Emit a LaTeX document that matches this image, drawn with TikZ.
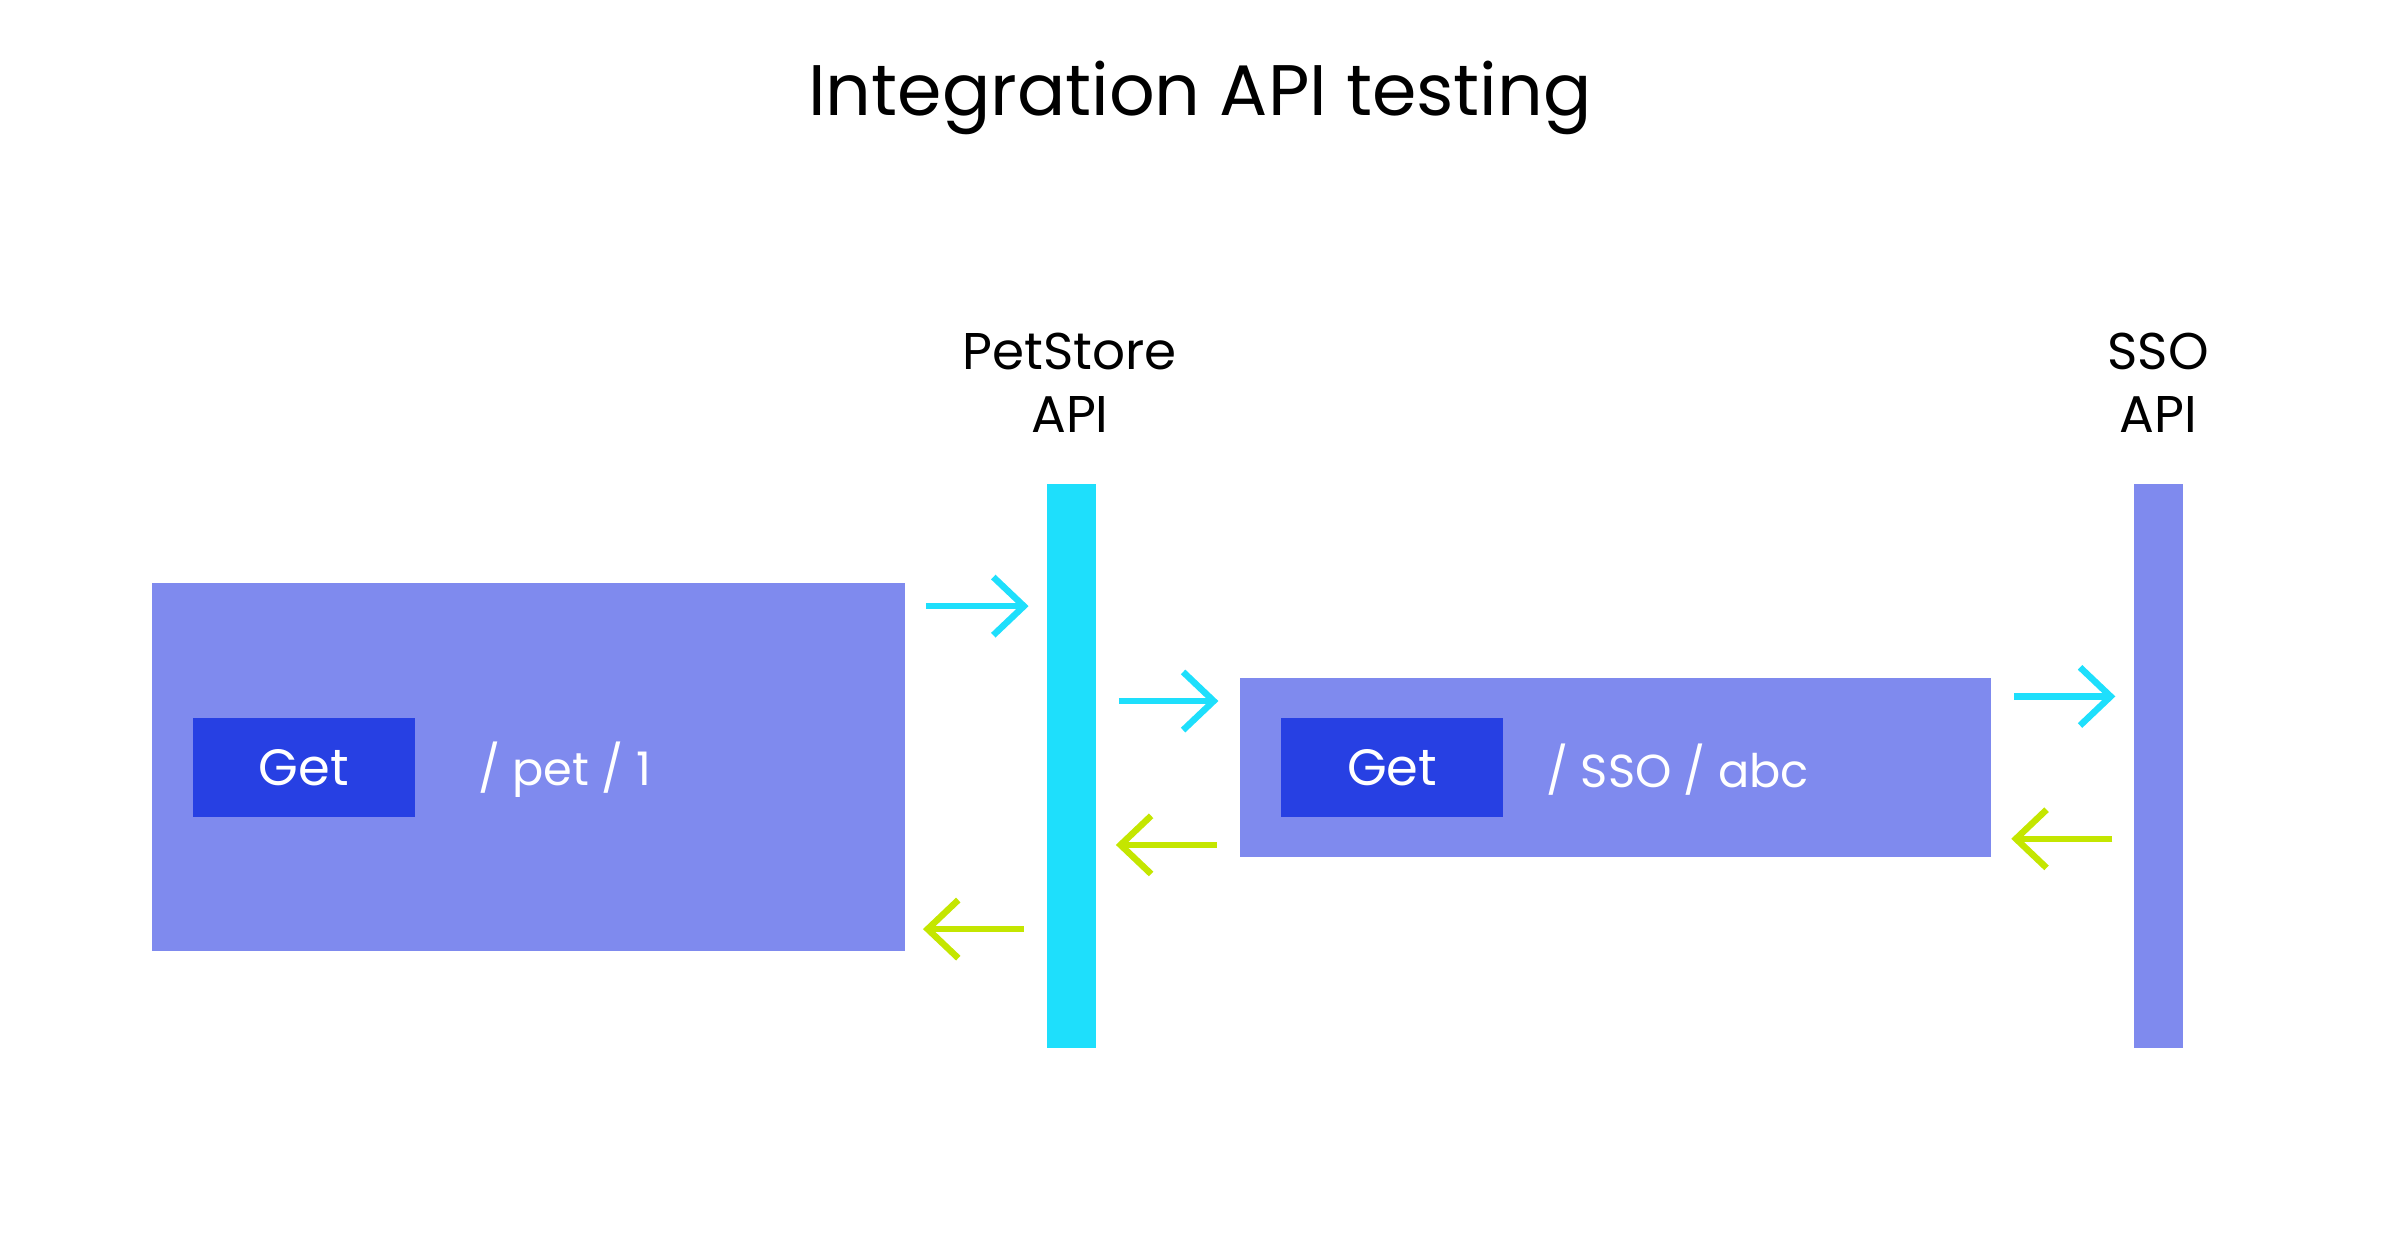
\documentclass[tikz,border=0pt]{standalone}
\usepackage{fontspec}
\setmainfont{Poppins}
\usetikzlibrary{arrows.meta}
\definecolor{lav}{HTML}{7F8AEE}
\definecolor{blu}{HTML}{2740E3}
\definecolor{cya}{HTML}{1EDFFC}
\definecolor{lim}{HTML}{C4E600}
\begin{document}
\begin{tikzpicture}[x=1cm,y=-1cm,
  box/.style={fill=lav,draw=none,inner sep=0,minimum width=#1},
  get/.style={fill=blu,text=white,inner sep=0,minimum width=1.45cm,minimum height=0.65cm,font=\fontsize{9.5}{12}\selectfont},
  lbl/.style={text=white,anchor=west,font=\fontsize{8.6}{12}\selectfont},
  bar/.style={fill=#1,inner sep=0,minimum width=0.32cm,minimum height=3.69cm},
  head/.style={align=center,font=\fontsize{9.6}{11.6}\selectfont},
  arr/.style={draw=#1,line width=1.2pt,-{Straight Barb[length=0.2cm,width=0.38cm,line width=1.2pt]}}]
\useasboundingbox (0,0) rectangle (15.68,8.23);
\node[font=\fontsize{13.3}{16}\selectfont] (title) at (7.84,0.64) {Integration API testing};
\node[box=4.92cm,minimum height=2.4cm] (left) at (3.45,5.01) {};
\node[get] (get1) at (1.985,5.015) {Get};
\node[lbl] (p1) at (3.0,5.03) {/ pet / 1};
\node[bar=cya] (pet) at (7.0,5.005) {};
\node[head] (petl) at (6.99,2.5) {PetStore\\API};
\node[bar=lav] (sso) at (14.105,5.005) {};
\node[head] (ssol) at (14.1,2.5) {SSO\\API};
\node[box=4.91cm,minimum height=1.17cm] (mid) at (10.555,5.015) {};
\node[get] (get2) at (9.095,5.015) {Get};
\node[lbl] (p2) at (9.98,5.03) {/ SSO / abc};
\coordinate (a1s) at (6.05,3.96); \coordinate (a1e) at (6.72,3.96);
\coordinate (a2s) at (7.31,4.58); \coordinate (a2e) at (7.96,4.58);
\coordinate (a3s) at (13.16,4.55); \coordinate (a3e) at (13.82,4.55);
\coordinate (b1s) at (7.95,5.52); \coordinate (b1e) at (7.29,5.52);
\coordinate (b2s) at (6.69,6.07); \coordinate (b2e) at (6.03,6.07);
\coordinate (b3s) at (13.80,5.48); \coordinate (b3e) at (13.14,5.48);
\draw[arr=cya] (a1s) -- (a1e);
\draw[arr=cya] (a2s) -- (a2e);
\draw[arr=cya] (a3s) -- (a3e);
\draw[arr=lim] (b1s) -- (b1e);
\draw[arr=lim] (b2s) -- (b2e);
\draw[arr=lim] (b3s) -- (b3e);
\end{tikzpicture}
\end{document}
